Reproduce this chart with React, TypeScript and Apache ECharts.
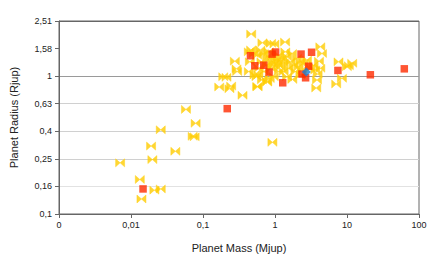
import React, { useEffect, useRef } from "react";
import * as echarts from "echarts";

// Yellow bowtie planets: [mass (Mjup), radius (Rjup)]
const otherPlanets: number[][] = [
  [0.00706, 0.235], [0.01325, 0.178], [0.01397, 0.1285], [0.019, 0.311], [0.0198, 0.248],
  [0.0211, 0.149], [0.0259, 0.152], [0.0259, 0.408], [0.0413, 0.285], [0.058, 0.574],
  [0.0718, 0.366], [0.0766, 0.363], [0.079, 0.455], [0.354, 0.726], [0.92, 0.331],
  [0.168, 0.834], [0.191, 0.99], [0.212, 0.98], [0.233, 0.81], [0.246, 0.847],
  [0.277, 1.285], [0.292, 1.13], [0.298, 1.08],
  [0.467, 2.02], [0.668, 1.746], [0.882, 1.73], [0.982, 1.71], [1.38, 1.766],
  [4.26, 1.633], [4.49, 1.46], [4.08, 1.285], [3.91, 1.035], [3.83, 0.937], [3.74, 0.82],
  [7.08, 0.877], [7.62, 1.27], [8.5, 0.964], [9.96, 1.17], [10.6, 1.19], [11.8, 1.24],
  [0.778, 0.906], [0.575, 0.837], [0.589, 1.02], [0.66, 0.94],
  [0.433, 1.5], [0.466, 1.55], [0.507, 1.46], [0.447, 1.27], [0.433, 1.08], [0.519, 1.02],
  [0.553, 0.99], [0.565, 0.84], [0.628, 1.55], [0.698, 1.46], [0.777, 1.38], [0.819, 1.5],
  [0.864, 1.35], [0.91, 1.27], [0.961, 1.2], [1.07, 1.31], [1.13, 1.42], [1.19, 1.17],
  [1.25, 1.35], [1.32, 1.24], [1.39, 1.5], [1.47, 1.38], [1.55, 1.14], [1.64, 1.27],
  [1.72, 1.46], [1.82, 1.2], [1.92, 1.08], [2.02, 1.35], [2.13, 1.17], [2.25, 1.27],
  [2.37, 1.11], [2.5, 1.24], [2.78, 1.31], [3.1, 1.14], [3.44, 1.2], [3.63, 1.11],
  [4.26, 1.14], [0.596, 1.14], [0.698, 1.08], [0.777, 0.911], [0.845, 0.96], [0.961, 0.99],
  [1.13, 1.08], [1.32, 1.08], [1.47, 0.99], [1.74, 0.947], [2.25, 1.02], [0.565, 1.42],
  [0.648, 1.27], [0.76, 1.2], [0.882, 1.14], [1.0, 1.25], [1.1, 1.22], [1.2, 1.3]
];

// Red square planets
const redPlanets: number[][] = [
  [0.0147, 0.152], [0.217, 0.581], [0.456, 1.406], [0.524, 1.19], [0.698, 1.2],
  [0.828, 1.07], [0.912, 1.445], [1.02, 1.496], [1.28, 0.895], [2.3, 1.445],
  [3.22, 1.49], [2.93, 1.18], [2.37, 1.035], [2.66, 0.973], [7.48, 1.1],
  [21.1, 1.023], [62.5, 1.13]
];

// Blue diamond planet
const bluePlanet: number[][] = [[2.72, 1.07]];

const yTickColors = ["transparent", "#e2e2e2", "#d0d0d0", "#d0d0d0", "#d0d0d0", "#9a9a9a", "transparent", "#666666"];

const toLog = (arr: number[][]) => arr.map(([m, r]) => [Math.log10(m), Math.log10(r)]);

const fmt = (v: number) => {
  const s = Math.pow(10, v).toFixed(2).replace(/\.?0+$/, "");
  return s.replace(".", ",");
};

const bowtie = "path://M0,0 L0,10 L6,5 Z M12,0 L12,10 L6,5 Z";

export default function App() {
  const ref = useRef<HTMLDivElement>(null);
  useEffect(() => {
    if (!ref.current) return;
    const chart = echarts.init(ref.current, undefined, { renderer: "svg" });
    const font = "Liberation Sans, Arial, sans-serif";
    chart.setOption({
      animation: false,
      backgroundColor: "#ffffff",
      grid: {
        left: 58, right: 17, top: 21, bottom: 44,
        show: true, borderColor: "#666666", borderWidth: 1, backgroundColor: "transparent"
      },
      xAxis: {
        type: "value", min: -3, max: 2, interval: 1,
        name: "Planet Mass (Mjup)", nameLocation: "middle", nameGap: 28,
        nameTextStyle: { fontFamily: font, fontSize: 11, color: "#222" },
        axisLine: { show: true, onZero: false, lineStyle: { color: "#666", width: 1 } },
        axisTick: { show: true, length: 4, lineStyle: { color: "#666" } },
        axisLabel: { formatter: fmt, fontFamily: font, fontSize: 9, color: "#222", margin: 6 },
        splitLine: { show: false }
      },
      yAxis: {
        type: "value", min: -1, max: 0.4, interval: 0.2,
        name: "Planet Radius (Rjup)", nameLocation: "middle", nameGap: 40, nameRotate: 90,
        nameTextStyle: { fontFamily: font, fontSize: 11, color: "#222" },
        axisLine: { show: true, onZero: false, lineStyle: { color: "#666", width: 1 } },
        axisTick: { show: true, length: 4, lineStyle: { color: "#666" } },
        axisLabel: { formatter: fmt, fontFamily: font, fontSize: 9, color: "#222", margin: 7 },
        splitLine: { show: true, lineStyle: { color: yTickColors, width: 1 } }
      },
      series: [
        {
          type: "scatter", data: toLog(otherPlanets), symbol: bowtie, symbolSize: [9, 8],
          itemStyle: { color: "#ffcc00", borderColor: "#ffd21a", borderWidth: 0.6 }, z: 2
        },
        {
          type: "scatter", data: toLog(redPlanets), symbol: "rect", symbolSize: 7.5,
          itemStyle: { color: "#ff2a00" }, z: 3
        },
        {
          type: "scatter", data: toLog(bluePlanet), symbol: "diamond", symbolSize: 9,
          itemStyle: { color: "#1a7fd4" }, z: 4
        }
      ]
    });
    return () => chart.dispose();
  }, []);
  return <div ref={ref} style={{ position: "fixed", left: 0, top: 0, width: 436, height: 258 }} />;
}
